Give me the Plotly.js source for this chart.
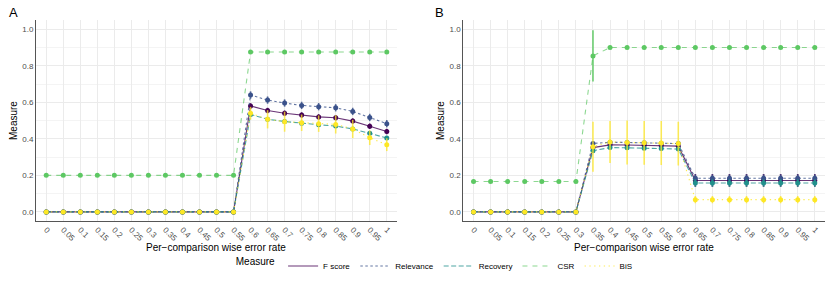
<!DOCTYPE html>
<html>
<head>
<meta charset="utf-8">
<script src="https://cdn.plot.ly/plotly-3.0.1.min.js"></script>
<style>html,body{margin:0;padding:0;background:#fff;}#chart{width:830px;height:283px;}</style>
</head>
<body>
<div id="chart"></div>
<script>
// Categories (per-comparison wise error rate)
var rates = ["0","0.05","0.1","0.15","0.2","0.25","0.3","0.35","0.4","0.45","0.5","0.55","0.6","0.65","0.7","0.75","0.8","0.85","0.9","0.95","1"];
var measures = ["F score","Relevance","Recovery","CSR","BiS"];

// Panel A values
var A_F      = [0,0,0,0,0,0,0,0,0,0,0,0,0.58,0.555,0.54,0.53,0.52,0.515,0.497,0.469,0.44];
var A_F_err  = [0,0,0,0,0,0,0,0,0,0,0,0,0.015,0.015,0.015,0.015,0.015,0.015,0.015,0.015,0.015];
var A_Rel    = [0,0,0,0,0,0,0,0,0,0,0,0,0.64,0.612,0.596,0.583,0.576,0.57,0.55,0.517,0.483];
var A_Rel_err= [0,0,0,0,0,0,0,0,0,0,0,0,0.02,0.02,0.02,0.02,0.02,0.02,0.02,0.02,0.02];
var A_Rec    = [0,0,0,0,0,0,0,0,0,0,0,0,0.533,0.507,0.495,0.485,0.477,0.47,0.454,0.43,0.404];
var A_Rec_err= [0,0,0,0,0,0,0,0,0,0,0,0,0.01,0.01,0.01,0.01,0.01,0.01,0.01,0.01,0.01];
var A_CSR    = [0.2,0.2,0.2,0.2,0.2,0.2,0.2,0.2,0.2,0.2,0.2,0.2,0.875,0.875,0.875,0.875,0.875,0.875,0.875,0.875,0.875];
var A_CSR_err= [0,0,0,0,0,0,0,0,0,0,0,0,0,0,0,0,0,0,0,0,0];
var A_BiS    = [0,0,0,0,0,0,0,0,0,0,0,0,0.54,0.507,0.494,0.488,0.483,0.479,0.454,0.406,0.368];
var A_BiS_err= [0,0,0,0,0,0,0,0,0,0,0,0,0.035,0.05,0.055,0.045,0.045,0.05,0.05,0.04,0.035];

// Panel B values
var B_F      = [0,0,0,0,0,0,0,0.352,0.367,0.366,0.365,0.364,0.36,0.172,0.172,0.172,0.172,0.172,0.172,0.172,0.172];
var B_F_err  = [0,0,0,0,0,0,0,0.015,0.015,0.015,0.015,0.015,0.015,0.035,0.035,0.035,0.035,0.035,0.035,0.035,0.035];
var B_Rel    = [0,0,0,0,0,0,0,0.375,0.381,0.38,0.378,0.376,0.374,0.184,0.184,0.184,0.184,0.184,0.184,0.184,0.184];
var B_Rel_err= [0,0,0,0,0,0,0,0.01,0.01,0.01,0.01,0.01,0.01,0.02,0.02,0.02,0.02,0.02,0.02,0.02,0.02];
var B_Rec    = [0,0,0,0,0,0,0,0.335,0.352,0.351,0.349,0.347,0.344,0.158,0.158,0.158,0.158,0.158,0.158,0.158,0.158];
var B_Rec_err= [0,0,0,0,0,0,0,0.01,0.01,0.01,0.01,0.01,0.01,0.02,0.02,0.02,0.02,0.02,0.02,0.02,0.02];
var B_CSR    = [0.166,0.166,0.166,0.166,0.166,0.166,0.166,0.854,0.9,0.9,0.9,0.9,0.9,0.9,0.9,0.9,0.9,0.9,0.9,0.9,0.9];
var B_CSR_err= [0,0,0,0,0,0,0,0.14,0,0,0,0,0,0,0,0,0,0,0,0,0];
var B_BiS    = [0,0,0,0,0,0,0,0.357,0.383,0.38,0.378,0.377,0.374,0.067,0.067,0.067,0.067,0.067,0.067,0.067,0.067];
var B_BiS_err= [0,0,0,0,0,0,0,0.137,0.115,0.12,0.12,0.12,0.12,0.02,0.02,0.02,0.02,0.02,0.02,0.02,0.02];

var colors = ["#440154","#3B528B","#21908C","#5DC863","#FDE725"];
var lineColors = ["rgba(68,1,84,0.8)","rgba(59,82,139,0.8)","rgba(33,144,140,0.8)","rgba(93,200,99,0.7)","rgba(253,231,37,0.8)"];
var errColors = ["rgba(68,1,84,0.85)","rgba(59,82,139,0.85)","rgba(33,144,140,0.85)","rgba(93,200,99,0.9)","rgba(253,231,37,0.75)"];
var dashes = ["solid","2.5px,2.5px","5px,2.5px","5px,5px","1.3px,3.5px"];

var panels = [
  {xa:"x", ya:"y", vals:[A_F,A_Rel,A_Rec,A_CSR,A_BiS], errs:[A_F_err,A_Rel_err,A_Rec_err,A_CSR_err,A_BiS_err], legend:true},
  {xa:"x2", ya:"y2", vals:[B_F,B_Rel,B_Rec,B_CSR,B_BiS], errs:[B_F_err,B_Rel_err,B_Rec_err,B_CSR_err,B_BiS_err], legend:false}
];

var traces = [];
panels.forEach(function(p){
  for (var i = 0; i < measures.length; i++) {
    traces.push({
      type:"scatter", mode:"lines", x:rates, y:p.vals[i], xaxis:p.xa, yaxis:p.ya,
      name:measures[i], legendgroup:measures[i], showlegend:p.legend,
      line:{color:lineColors[i], width:1.1, dash:dashes[i]}, hoverinfo:"skip"
    });
    traces.push({
      type:"scatter", mode:"markers", x:rates, y:p.vals[i], xaxis:p.xa, yaxis:p.ya,
      name:measures[i], legendgroup:measures[i], showlegend:false,
      marker:{color:colors[i], size:5},
      error_y:{type:"data", array:p.errs[i], visible:true, width:0, thickness:1.6, color:errColors[i]}
    });
  }
});

function xaxis(domain, anchor){
  return {domain:domain, anchor:anchor, type:"category", categoryarray:rates, range:[-0.6,20.6],
    showgrid:true, gridcolor:"#EBEBEB", gridwidth:1, zeroline:false,
    showline:true, linecolor:"#555", linewidth:1, ticks:"", tickangle:45,
    tickfont:{family:"Liberation Sans, Arial, sans-serif", size:8, color:"#4D4D4D"}, automargin:false};
}
function yaxis(domain, anchor){
  return {domain:domain, anchor:anchor, range:[-0.05,1.05], tickvals:[0,0.2,0.4,0.6,0.8,1.0], tickformat:".1f",
    showgrid:true, gridcolor:"#EBEBEB", gridwidth:1, zeroline:false,
    minor:{tickvals:[0.1,0.3,0.5,0.7,0.9], showgrid:true, gridcolor:"#F4F4F4", gridwidth:1, ticks:""},
    showline:true, linecolor:"#555", linewidth:1, ticks:"",
    tickfont:{family:"Liberation Sans, Arial, sans-serif", size:8, color:"#4D4D4D"}, automargin:false};
}

var yDom = [0.219, 0.929];
var font = "Liberation Sans, Arial, sans-serif";
var layout = {
  width:830, height:283,
  margin:{l:0,r:0,t:0,b:0},
  paper_bgcolor:"#fff", plot_bgcolor:"#fff",
  font:{family:font, color:"#000"},
  xaxis: xaxis([0.0434,0.4783],"y"),
  yaxis: yaxis(yDom,"x"),
  xaxis2: xaxis([0.5582,0.994],"y2"),
  yaxis2: yaxis(yDom,"x2"),
  showlegend:true,
  legend:{orientation:"h", x:0.525, xanchor:"center", y:0.06, yanchor:"middle",
    title:{text:"Measure", side:"left", font:{family:font, size:10, color:"#000"}},
    font:{family:font, size:8, color:"#000"}, itemwidth:30, tracegroupgap:0, bgcolor:"rgba(0,0,0,0)"},
  annotations:[
    {text:"A", xref:"paper", yref:"paper", x:13.5/830, y:(283-13)/283, xanchor:"center", yanchor:"middle", showarrow:false, font:{family:font, size:13, color:"#000"}},
    {text:"B", xref:"paper", yref:"paper", x:439/830, y:(283-13)/283, xanchor:"center", yanchor:"middle", showarrow:false, font:{family:font, size:13, color:"#000"}},
    {text:"Measure", xref:"paper", yref:"paper", x:13/830, y:(283-121)/283, xanchor:"center", yanchor:"middle", textangle:-90, showarrow:false, font:{family:font, size:10, color:"#000"}},
    {text:"Measure", xref:"paper", yref:"paper", x:440/830, y:(283-121)/283, xanchor:"center", yanchor:"middle", textangle:-90, showarrow:false, font:{family:font, size:10, color:"#000"}},
    {text:"Per\u2212comparison wise error rate", xref:"paper", yref:"paper", x:216/830, y:(283-247)/283, xanchor:"center", yanchor:"middle", showarrow:false, font:{family:font, size:10, color:"#000"}},
    {text:"Per\u2212comparison wise error rate", xref:"paper", yref:"paper", x:644/830, y:(283-247)/283, xanchor:"center", yanchor:"middle", showarrow:false, font:{family:font, size:10, color:"#000"}}
  ]
};

Plotly.newPlot("chart", traces, layout, {displayModeBar:false, staticPlot:true});
</script>
</body>
</html>
